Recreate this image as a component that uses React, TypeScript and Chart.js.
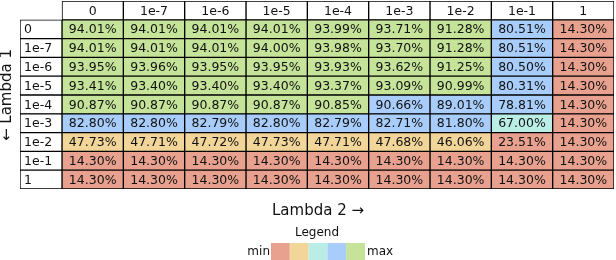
import React, { useEffect, useRef } from "react";
import { Chart, registerables } from "chart.js";

Chart.register(...registerables);

const colLabels = ["0", "1e-7", "1e-6", "1e-5", "1e-4", "1e-3", "1e-2", "1e-1", "1"];
const rowLabels = ["0", "1e-7", "1e-6", "1e-5", "1e-4", "1e-3", "1e-2", "1e-1", "1"];

const row0 = [94.01, 94.01, 94.01, 94.01, 93.99, 93.71, 91.28, 80.51, 14.3];
const row1e7 = [94.01, 94.01, 94.01, 94.0, 93.98, 93.7, 91.28, 80.51, 14.3];
const row1e6 = [93.95, 93.96, 93.95, 93.95, 93.93, 93.62, 91.25, 80.5, 14.3];
const row1e5 = [93.41, 93.4, 93.4, 93.4, 93.37, 93.09, 90.99, 80.31, 14.3];
const row1e4 = [90.87, 90.87, 90.87, 90.87, 90.85, 90.66, 89.01, 78.81, 14.3];
const row1e3 = [82.8, 82.8, 82.79, 82.8, 82.79, 82.71, 81.8, 67.0, 14.3];
const row1e2 = [47.73, 47.71, 47.72, 47.73, 47.71, 47.68, 46.06, 23.51, 14.3];
const row1e1 = [14.3, 14.3, 14.3, 14.3, 14.3, 14.3, 14.3, 14.3, 14.3];
const row1 = [14.3, 14.3, 14.3, 14.3, 14.3, 14.3, 14.3, 14.3, 14.3];
const values = [row0, row1e7, row1e6, row1e5, row1e4, row1e3, row1e2, row1e1, row1];

const thresholds = [30, 60, 75, 90.7];
const scaleColors = ["#e9a18f", "#f2d598", "#bbede7", "#a8cdfa", "#c5e399"];

const xTitle = "Lambda 2 \u2192";
const yTitle = "\u2190 Lambda 1";
const legendTitle = "Legend";
const FONT = "'DejaVu Sans', sans-serif";

function colorFor(v: number): string {
  let i = 0;
  while (i < thresholds.length && v >= thresholds[i]) i++;
  return scaleColors[i];
}

export default function App() {
  const ref = useRef<HTMLCanvasElement | null>(null);

  useEffect(() => {
    document.body.style.margin = "0";
    const canvas = ref.current;
    if (!canvas) return;

    const yLabels = ["", ...rowLabels];
    const labelColStart = -0.685;

    const datasets: any[] = [];
    datasets.push({
      label: "rows",
      data: [null, ...rowLabels.map(() => [labelColStart, 0])],
      backgroundColor: "#ffffff",
      kind: "rowlabel",
    });
    colLabels.forEach((c, ci) => {
      datasets.push({
        label: c,
        data: [[ci, ci + 1], ...rowLabels.map(() => [ci, ci + 1])],
        backgroundColor: ["#ffffff", ...values.map((r) => colorFor(r[ci]))],
        kind: "col",
        colIndex: ci,
      });
    });
    datasets.forEach((d) => {
      d.borderColor = "#000000";
      d.borderWidth = 1;
      d.borderSkipped = false;
      d.grouped = false;
      d.barPercentage = 1;
      d.categoryPercentage = 1;
    });

    const textPlugin = {
      id: "cellText",
      afterDatasetsDraw(chart: any) {
        const ctx = chart.ctx;
        ctx.save();
        ctx.font = `12.5px ${FONT}`;
        ctx.fillStyle = "#111";
        ctx.textBaseline = "middle";
        chart.data.datasets.forEach((ds: any, di: number) => {
          const meta = chart.getDatasetMeta(di);
          meta.data.forEach((el: any, i: number) => {
            if (ds.data[i] == null) return;
            const left = Math.min(el.x, el.base);
            const right = Math.max(el.x, el.base);
            const y = el.y + 1;
            if (ds.kind === "rowlabel") {
              ctx.textAlign = "left";
              ctx.fillText(rowLabels[i - 1], left + 4, y);
            } else {
              ctx.textAlign = "center";
              const t = i === 0 ? colLabels[ds.colIndex] : values[i - 1][ds.colIndex].toFixed(2) + "%";
              ctx.fillText(t, (left + right) / 2, y);
            }
          });
        });
        ctx.restore();
      },
      afterDraw(chart: any) {
        const ctx = chart.ctx;
        const ca = chart.chartArea;
        const cx = (ca.left + ca.right) / 2;
        ctx.save();
        ctx.fillStyle = "#111";
        ctx.textBaseline = "middle";
        ctx.textAlign = "center";
        ctx.font = `15px ${FONT}`;
        ctx.fillText(xTitle, cx + 1, ca.bottom + 22);
        ctx.save();
        ctx.translate(7, (ca.top + ca.bottom) / 2);
        ctx.rotate(-Math.PI / 2);
        ctx.fillText(yTitle, 0, 0);
        ctx.restore();
        ctx.font = `12px ${FONT}`;
        ctx.fillText(legendTitle, cx, ca.bottom + 44);
        const sw = 18.8;
        const sx = cx - (sw * scaleColors.length) / 2 + 1;
        const sy = ca.bottom + 54;
        scaleColors.forEach((c, i) => {
          ctx.fillStyle = c;
          ctx.fillRect(sx + i * sw, sy, sw, 20);
        });
        ctx.fillStyle = "#111";
        ctx.textAlign = "right";
        ctx.fillText("min", sx - 1, sy + 9);
        ctx.textAlign = "left";
        ctx.fillText("max", sx + sw * scaleColors.length + 2, sy + 9);
        ctx.restore();
      },
    };

    const chart = new Chart(canvas, {
      type: "bar",
      data: { labels: yLabels, datasets },
      options: {
        indexAxis: "y",
        responsive: false,
        animation: false,
        maintainAspectRatio: false,
        layout: { padding: { left: 20, right: 2, top: 1, bottom: 71 } },
        scales: {
          x: { type: "linear", min: labelColStart, max: 9, display: false },
          y: { type: "category", display: false, offset: true },
        },
        plugins: { legend: { display: false }, tooltip: { enabled: false } },
      } as any,
      plugins: [textPlugin],
    });
    return () => chart.destroy();
  }, []);

  return <canvas ref={ref} width={616} height={260} style={{ display: "block" }} />;
}
